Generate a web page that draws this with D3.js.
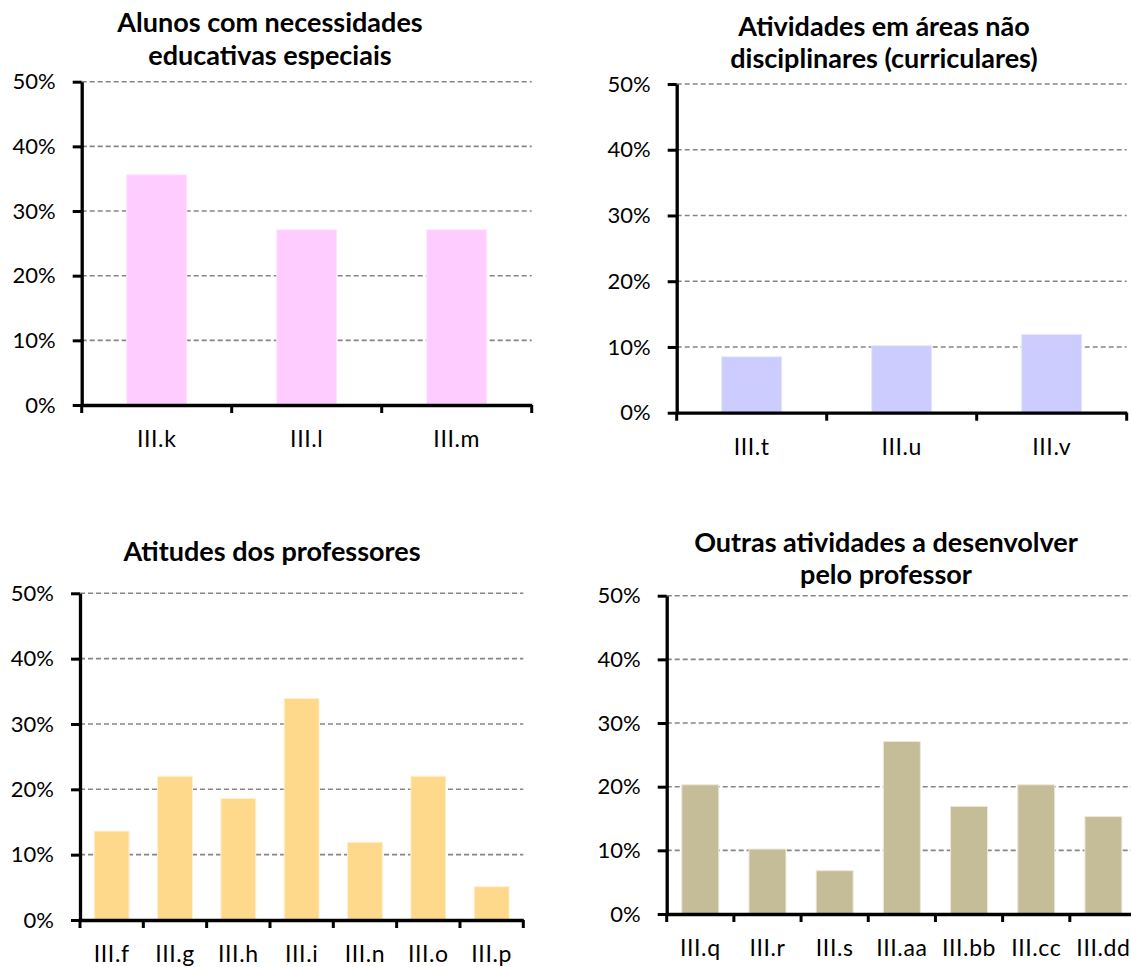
<!DOCTYPE html>
<html>
<head>
<meta charset="utf-8">
<script src="https://cdn.jsdelivr.net/npm/d3@7"></script>
<style>
  body { margin: 0; background: #fff; }
  svg { display: block; font-family: Lato, "Open Sans", sans-serif; }
</style>
</head>
<body>
<svg id="chart" width="1131" height="967"></svg>
<script>
// values in percent
const catsNee = ['III.k', 'III.l', 'III.m'],
    valsNee = [35.6, 27.1, 27.1];
const catsCur = ['III.t', 'III.u', 'III.v'],
    valsCur = [8.5, 10.2, 11.9];
const catsAtt = ['III.f', 'III.g', 'III.h', 'III.i', 'III.n', 'III.o', 'III.p'],
    valsAtt = [13.6, 22.0, 18.6, 33.9, 11.9, 22.0, 5.1];
const catsOut = ['III.q', 'III.r', 'III.s', 'III.aa', 'III.bb', 'III.cc', 'III.dd'],
    valsOut = [20.3, 10.2, 6.8, 27.1, 16.9, 20.3, 15.3];
const yTicks = [0, 10, 20, 30, 40, 50];

const titles = [
    ['Alunos com necessidades', 'educativas especiais'],
    ['Atividades em áreas não', 'disciplinares (curriculares)'],
    ['Atitudes dos professores'],
    ['Outras atividades a desenvolver', 'pelo professor']
];

// layout of the four panels
const panels = [
    {cats: catsNee, vals: valsNee, title: titles[0], color: '#FFCCFF', stroke: '#FFE6FF',
        left: 81.7, right: 531.7, top: 81.7, bottom: 405, titleX: 270, titleY: [32, 65], ratio: 0.4},
    {cats: catsCur, vals: valsCur, title: titles[1], color: '#CCCCFF', stroke: '#E6E6FF',
        left: 676.7, right: 1126.7, top: 84, bottom: 412.7, titleX: 884, titleY: [36, 68], ratio: 0.4},
    {cats: catsAtt, vals: valsAtt, title: titles[2], color: '#FED88B', stroke: '#FFF0CF',
        left: 80, right: 523.3, top: 593.3, bottom: 920, titleX: 272, titleY: [561], ratio: 0.55},
    {cats: catsOut, vals: valsOut, title: titles[3], color: '#C4BD97', stroke: '#ECE8DA',
        left: 666.7, right: 1137, top: 595.7, bottom: 914, titleX: 886, titleY: [552, 584], ratio: 0.55}
];

const svg = d3.select('#chart');

for(const p of panels) {
    const g = svg.append('g'),
        x = d3.scaleBand().domain(p.cats).range([p.left, p.right]).padding(0),
        y = d3.scaleLinear().domain([0, 50]).range([p.bottom, p.top]);

    // dashed gridlines
    g.append('g')
        .selectAll('line')
        .data(yTicks.slice(1))
        .join('line')
            .attr('x1', p.left)
            .attr('x2', p.right)
            .attr('y1', (d) => y(d))
            .attr('y2', (d) => y(d))
            .attr('stroke', '#858585')
            .attr('stroke-width', 1.6)
            .attr('stroke-dasharray', '5,3');

    // bars
    const bw = x.bandwidth() * p.ratio;
    g.append('g')
        .selectAll('rect')
        .data(p.cats.map((c, i) => ({cat: c, val: p.vals[i]})))
        .join('rect')
            .attr('x', (d) => x(d.cat) + (x.bandwidth() - bw) / 2)
            .attr('width', bw)
            .attr('y', (d) => y(d.val))
            .attr('height', (d) => y(0) - y(d.val))
            .attr('fill', p.color)
            .attr('stroke', p.stroke)
            .attr('stroke-width', 1);

    // y axis
    const yAxis = g.append('g')
        .attr('transform', `translate(${p.left},0)`)
        .call(d3.axisLeft(y).tickValues(yTicks).tickFormat((d) => d + '%').tickSize(9).tickSizeOuter(0).tickPadding(17));
    yAxis.select('.domain').attr('stroke', '#000').attr('stroke-width', 3.3);
    yAxis.selectAll('.tick line').attr('stroke', '#000').attr('stroke-width', 3);
    yAxis.selectAll('.tick text')
        .attr('fill', '#000')
        .style('font-size', '22px')
        .style('font-family', 'Lato, sans-serif');

    // x axis: labels under bands, ticks between categories
    const xAxis = g.append('g')
        .attr('transform', `translate(0,${p.bottom})`)
        .call(d3.axisBottom(x).tickSize(0).tickSizeOuter(0).tickPadding(26));
    xAxis.select('.domain').attr('stroke', '#000').attr('stroke-width', 3.3);
    xAxis.selectAll('.tick text')
        .attr('fill', '#000')
        .style('font-size', '23px')
        .style('letter-spacing', '0.6px')
        .style('font-family', 'Lato, sans-serif');

    const edges = p.cats.map((c) => x(c)).concat([x.range()[1]]);
    g.append('g')
        .selectAll('line')
        .data(edges)
        .join('line')
            .attr('x1', (d) => d)
            .attr('x2', (d) => d)
            .attr('y1', p.bottom)
            .attr('y2', p.bottom + 8)
            .attr('stroke', '#000')
            .attr('stroke-width', 3);

    // title
    g.append('text')
        .attr('x', p.titleX)
        .attr('text-anchor', 'middle')
        .style('font-size', '27px')
        .style('font-weight', 'bold')
        .selectAll('tspan')
        .data(p.title)
        .join('tspan')
            .attr('x', p.titleX)
            .attr('y', (d, i) => p.titleY[i])
            .text((d) => d);
}
</script>
</body>
</html>
